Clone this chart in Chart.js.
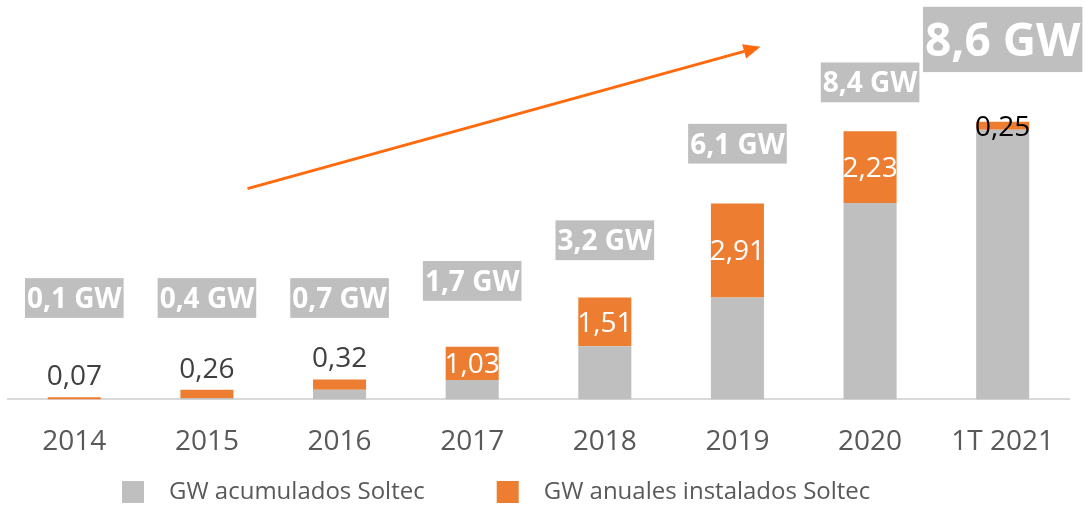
<!DOCTYPE html>
<html>
<head>
<meta charset="utf-8">
<script src="https://cdn.jsdelivr.net/npm/chart.js@4.4.1/dist/chart.umd.min.js"></script>
<style>
  html, body { margin: 0; padding: 0; background: #ffffff; }
  #wrap { width: 1086px; height: 506px; position: relative; }
</style>
</head>
<body>
<div id="wrap"><canvas id="c" width="1086" height="506"></canvas></div>
<script>
// ---- data ----
const categories = ['2014', '2015', '2016', '2017', '2018', '2019', '2020', '1T 2021'];
const gwAcumulados = [0, 0.04, 0.30, 0.60, 1.65, 3.16, 6.08, 8.35];
const gwAnuales = [0.07, 0.26, 0.32, 1.03, 1.51, 2.91, 2.23, 0.25];
const totalGW = [0.1, 0.4, 0.7, 1.7, 3.2, 6.1, 8.4, 8.6];
const seriesNames = ['GW acumulados Soltec', 'GW anuales instalados Soltec'];

const GRAY = '#BFBFBF';
const ORANGE = '#ED7D31';
const FONT = '"Open Sans", "Noto Sans", sans-serif';

function fmt(v, d) { return v.toFixed(d).replace('.', ','); }

const overlayPlugin = {
  id: 'overlays',
  afterDatasetsDraw(chart, args, opts) {
    const ctx = chart.ctx;
    const ys = chart.scales.y, xs = chart.scales.x;
    const metaA = chart.getDatasetMeta(1);
    ctx.save();
    // annual value labels
    metaA.data.forEach((el, i) => {
      const size = 28;
      ctx.font = `${size}px ${FONT}`;
      ctx.textAlign = 'center';
      ctx.textBaseline = 'alphabetic';
      const txt = fmt(gwAnuales[i], 2);
      const place = opts.annualPlacement[i];
      if (place === 'above') {
        ctx.fillStyle = '#404040';
        ctx.fillText(txt, el.x, el.y - 12);
      } else {
        ctx.fillStyle = opts.insideColors[i];
        const mid = (el.y + el.base) / 2;
        ctx.fillText(txt, el.x, mid + size * 0.714 / 2);
      }
    });
    // total labels in gray boxes
    metaA.data.forEach((el, i) => {
      const size = opts.totalFontSizes[i];
      ctx.font = `bold ${size}px ${FONT}`;
      const txt = fmt(totalGW[i], 1) + ' GW';
      const w = ctx.measureText(txt).width;
      const cy = ys.getPixelForValue(opts.totalLevels[i]);
      const h = size * 1.42;
      ctx.fillStyle = GRAY;
      ctx.fillRect(el.x - w / 2 - 2, cy - h / 2, w + 4, h);
      ctx.fillStyle = '#FFFFFF';
      ctx.textAlign = 'center';
      ctx.textBaseline = 'alphabetic';
      ctx.fillText(txt, el.x, cy + size * 0.714 / 2);
    });
    // arrow
    const a = opts.arrow;
    const x0 = xs.getPixelForValue(a.from[0]), y0 = ys.getPixelForValue(a.from[1]);
    const x1 = xs.getPixelForValue(a.to[0]), y1 = ys.getPixelForValue(a.to[1]);
    const ang = Math.atan2(y1 - y0, x1 - x0);
    const hl = 17, hw = 7.5;
    const bx = x1 - hl * Math.cos(ang), by = y1 - hl * Math.sin(ang);
    ctx.strokeStyle = a.color;
    ctx.lineWidth = 3;
    ctx.beginPath();
    ctx.moveTo(x0, y0);
    ctx.lineTo(bx, by);
    ctx.stroke();
    ctx.fillStyle = a.color;
    ctx.beginPath();
    ctx.moveTo(x1, y1);
    ctx.lineTo(bx + hw * Math.sin(ang), by - hw * Math.cos(ang));
    ctx.lineTo(bx - hw * Math.sin(ang), by + hw * Math.cos(ang));
    ctx.closePath();
    ctx.fill();
    ctx.restore();
  },
  afterDraw(chart, args, opts) {
    // legend
    const ctx = chart.ctx;
    const L = opts.legend;
    ctx.save();
    ctx.font = `${L.fontSize}px ${FONT}`;
    ctx.textAlign = 'left';
    ctx.textBaseline = 'alphabetic';
    let x = L.startX;
    chart.data.datasets.forEach((ds) => {
      ctx.fillStyle = ds.backgroundColor;
      ctx.fillRect(x, L.boxTop, L.box, L.box);
      x += L.box + L.gap;
      ctx.fillStyle = '#595959';
      ctx.fillText(ds.label, x, L.baseline);
      x += ctx.measureText(ds.label).width + L.itemGap;
    });
    ctx.restore();
  }
};

new Chart(document.getElementById('c'), {
  type: 'bar',
  data: {
    labels: categories,
    datasets: [
      { label: seriesNames[0], data: gwAcumulados, backgroundColor: GRAY, borderWidth: 0, barPercentage: 0.4, categoryPercentage: 1 },
      { label: seriesNames[1], data: gwAnuales, backgroundColor: ORANGE, borderWidth: 0, barPercentage: 0.4, categoryPercentage: 1 }
    ]
  },
  options: {
    responsive: false,
    animation: false,
    devicePixelRatio: 1,
    layout: { padding: { left: 8, right: 17, top: 12, bottom: 21 } },
    scales: {
      x: {
        stacked: true,
        grid: { display: false, drawTicks: false },
        border: { display: true, color: '#D9D9D9', width: 2 },
        ticks: { color: '#595959', font: { family: FONT, size: 28 }, padding: 26 }
      },
      y: { stacked: true, display: false, min: 0, max: 12 }
    },
    plugins: {
      legend: { display: false },
      tooltip: { enabled: false },
      overlays: {
        annualPlacement: ['above', 'above', 'above', 'inside', 'inside', 'inside', 'inside', 'inside'],
        insideColors: ['#FFFFFF', '#FFFFFF', '#FFFFFF', '#FFFFFF', '#FFFFFF', '#FFFFFF', '#FFFFFF', '#000000'],
        totalLevels: [3.14, 3.14, 3.14, 3.67, 4.93, 7.92, 9.82, 11.15],
        totalFontSizes: [28, 28, 28, 28, 28, 28, 28, 46],
        arrow: { from: [1.306, 6.53], to: [5.174, 10.92], color: '#FF6A0D' },
        legend: { startX: 122, boxTop: 481, box: 22, gap: 25, itemGap: 72, baseline: 499, fontSize: 24 }
      }
    }
  },
  plugins: [overlayPlugin]
});
</script>
</body>
</html>
